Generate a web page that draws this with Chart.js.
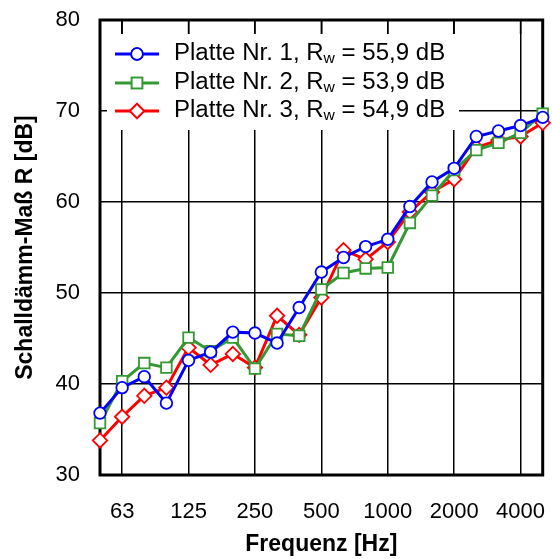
<!DOCTYPE html>
<html>
<head>
<meta charset="utf-8">
<script src="https://cdn.jsdelivr.net/npm/chart.js@4"></script>
<style>
  html, body { margin: 0; padding: 0; background: #fff; }
  #wrap { width: 552px; height: 559px; }
</style>
</head>
<body>
<div id="wrap"><canvas id="c"></canvas></div>
<script>
// third-octave band centre frequencies [Hz]
const frequencies = [50, 63, 80, 100, 125, 160, 200, 250, 315, 400, 500, 630, 800, 1000, 1250, 1600, 2000, 2500, 3150, 4000, 5000];
const tickLabels = [63, 125, 250, 500, 1000, 2000, 4000];

const platte1 = [36.8, 39.6, 40.8, 37.9, 42.6, 43.5, 45.7, 45.6, 44.5, 48.4, 52.3, 53.9, 55.1, 55.9, 59.5, 62.2, 63.7, 67.2, 67.8, 68.4, 69.3];
const platte2 = [35.7, 40.3, 42.3, 41.8, 45.1, 43.6, 45.1, 41.7, 45.5, 45.3, 50.4, 52.2, 52.7, 52.8, 57.7, 60.7, 63.5, 65.7, 66.5, 67.6, 69.7];
const platte3 = [33.8, 36.4, 38.7, 39.6, 44.0, 42.1, 43.3, 41.8, 47.5, 45.4, 49.5, 54.7, 53.7, 55.6, 58.9, 61.1, 62.5, 66.0, 66.8, 67.2, 68.7];

const seriesNames = ['Platte Nr. 1', 'Platte Nr. 2', 'Platte Nr. 3'];
const rwValues = ['55,9', '53,9', '54,9'];
const seriesColors = ['#0000ff', '#339933', '#ff0000'];
const pointStyles = ['circle', 'rect', 'rectRot'];
const pointSizes = [5.8, 7.5, 7.2];

const FONT = '"Liberation Sans", Arial, Helvetica, sans-serif';

function isTick(i) {
  return tickLabels.includes(frequencies[i]);
}

// frame, top ticks and the white legend box inside the plot
const frameAndLegend = {
  id: 'frameAndLegend',
  beforeDatasetsDraw(chart) {
    const ctx = chart.ctx;
    const a = chart.chartArea;
    const xs = chart.scales.x;
    ctx.save();
    // legend background
    ctx.fillStyle = '#fff';
    ctx.fillRect(a.left + 7, a.top + 14, 352, 96);
    // short ticks at the top edge
    ctx.strokeStyle = '#000';
    ctx.lineWidth = 1.5;
    tickLabels.forEach(f => {
      const x = xs.getPixelForValue(frequencies.indexOf(f));
      ctx.beginPath();
      ctx.moveTo(x, a.top);
      ctx.lineTo(x, a.top + 14);
      ctx.stroke();
    });
    // frame
    ctx.lineWidth = 3;
    ctx.strokeRect(a.left, a.top, a.right - a.left, a.bottom - a.top);

    // legend entries
    const rowY = [a.top + 34, a.top + 63, a.top + 91];
    chart.data.datasets.forEach((ds, i) => {
      const y = rowY[i];
      ctx.strokeStyle = ds.borderColor;
      ctx.lineWidth = 3;
      ctx.beginPath();
      ctx.moveTo(a.left + 15, y);
      ctx.lineTo(a.left + 59, y);
      ctx.stroke();
      ctx.fillStyle = '#fff';
      ctx.lineWidth = 1.8;
      Chart.helpers.drawPoint(ctx, {
        pointStyle: ds.pointStyle,
        radius: ds.pointRadius,
        borderWidth: 1.8
      }, a.left + 37, y);
      ctx.fill();
      ctx.stroke();

      // text is a little wider than the font, stretch it slightly
      ctx.save();
      ctx.translate(a.left + 74, y);
      ctx.scale(1.045, 1);
      ctx.fillStyle = '#000';
      ctx.textBaseline = 'middle';
      ctx.textAlign = 'left';
      let x = 0;
      ctx.font = '23px ' + FONT;
      const part1 = seriesNames[i] + ', R';
      ctx.fillText(part1, x, 0);
      x += ctx.measureText(part1).width;
      ctx.font = '15px ' + FONT;
      ctx.fillText('w', x, 5);
      x += ctx.measureText('w').width;
      ctx.font = '23px ' + FONT;
      ctx.fillText(' = ' + rwValues[i] + ' dB', x, 0);
      ctx.restore();
    });
    ctx.restore();
  }
};

const datasets = [platte1, platte2, platte3].map((vals, i) => ({
  label: seriesNames[i],
  data: vals,
  borderColor: seriesColors[i],
  backgroundColor: '#fff',
  borderWidth: 3,
  pointStyle: pointStyles[i],
  pointRadius: pointSizes[i],
  pointHoverRadius: pointSizes[i],
  pointBorderWidth: 1.8,
  pointBackgroundColor: '#fff',
  pointBorderColor: seriesColors[i],
  tension: 0,
  clip: false
}));

new Chart(document.getElementById('c'), {
  type: 'line',
  data: { labels: frequencies, datasets: datasets },
  options: {
    responsive: true,
    maintainAspectRatio: false,
    animation: false,
    events: [],
    layout: { padding: { top: 20, right: 7, left: 0, bottom: 0 } },
    plugins: {
      legend: { display: false },
      tooltip: { enabled: false }
    },
    scales: {
      x: {
        type: 'category',
        offset: false,
        afterFit(scale) { scale.height = 84; },
        border: { display: false },
        grid: {
          drawTicks: true,
          tickLength: 24,
          tickColor: 'rgba(0,0,0,0)',
          color: ctx => isTick(ctx.index) ? '#000' : 'rgba(0,0,0,0)',
          lineWidth: 1.5
        },
        ticks: {
          autoSkip: false,
          maxRotation: 0,
          padding: 0,
          color: '#000',
          font: { family: FONT, size: 22 },
          callback: (v, i) => isTick(i) ? String(frequencies[i]) : ''
        },
        title: {
          display: true,
          text: 'Frequenz [Hz]',
          color: '#000',
          font: { family: FONT, size: 23, weight: 'bold' },
          padding: { top: 0, bottom: 1 }
        }
      },
      y: {
        min: 30,
        max: 80,
        afterFit(scale) { scale.width = 100; },
        border: { display: false },
        grid: {
          drawTicks: true,
          tickLength: 20,
          tickColor: 'rgba(0,0,0,0)',
          color: '#000',
          lineWidth: 1.5
        },
        ticks: {
          stepSize: 10,
          padding: 0,
          color: '#000',
          font: { family: FONT, size: 22 }
        },
        title: {
          display: true,
          text: 'Schalldämm-Maß R [dB]',
          color: '#000',
          font: { family: FONT, size: 23, weight: 'bold' },
          padding: { top: 12, bottom: 0 }
        }
      }
    }
  },
  plugins: [frameAndLegend]
});
</script>
</body>
</html>
